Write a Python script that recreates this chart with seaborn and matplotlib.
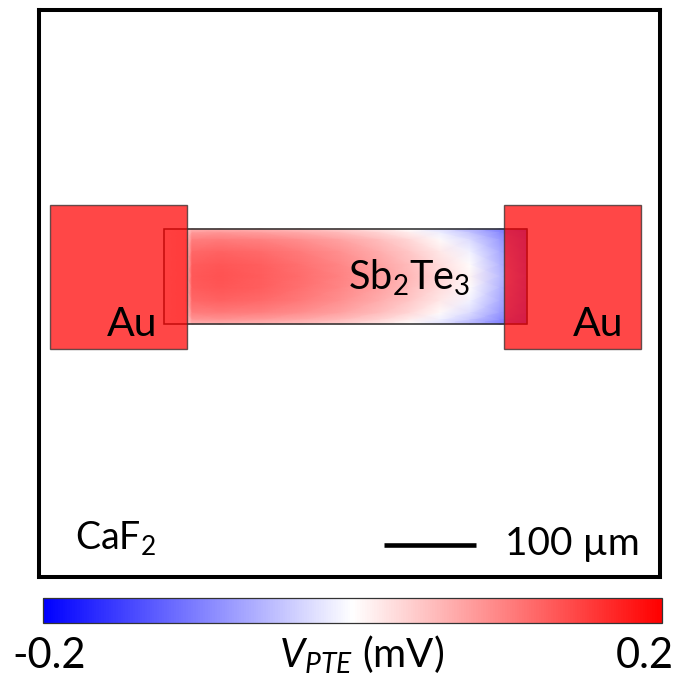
import numpy as np
import matplotlib
matplotlib.use("Agg")
import matplotlib.pyplot as plt
from matplotlib.patches import Rectangle
import seaborn as sns

# ---------------- data (V_PTE in mV) ----------------
# sample positions along the Sb2Te3 channel (picture pixels, left contact -> right contact)
field_x = [164, 185, 192, 220, 260, 300, 340, 380, 410, 440, 470, 500, 527]
# sample positions across the channel, from its edge to its centre line
field_y = [229, 233, 240, 252, 265, 276.5]
field_edge = [0.020, 0.030, 0.060, 0.062, 0.058, 0.050, 0.038, 0.020,  0.000, -0.025, -0.060, -0.100, -0.125]
field_r1   = [0.020, 0.030, 0.080, 0.083, 0.078, 0.068, 0.054, 0.034,  0.014, -0.012, -0.045, -0.090, -0.120]
field_r2   = [0.020, 0.030, 0.100, 0.104, 0.099, 0.088, 0.072, 0.050,  0.030,  0.004, -0.028, -0.078, -0.115]
field_r3   = [0.020, 0.030, 0.118, 0.122, 0.116, 0.104, 0.087, 0.064,  0.043,  0.018, -0.010, -0.066, -0.112]
field_r4   = [0.020, 0.030, 0.128, 0.132, 0.125, 0.112, 0.095, 0.072,  0.051,  0.028,  0.003, -0.058, -0.108]
field_mid  = [0.020, 0.030, 0.130, 0.135, 0.128, 0.115, 0.098, 0.075,  0.055,  0.032,  0.008, -0.052, -0.105]
vmin, vmax = -0.2, 0.2
cbar_tick_values = [-0.177, -0.108, -0.040, 0.028, 0.096, 0.165]
cbar_end_labels = ["-0.2", "0.2"]
material_labels = {"pad": "Au", "channel": r"Sb$_2$Te$_3$", "substrate": r"CaF$_2$"}
scale_label = "100 µm"
cbar_label = r"$\mathit{V}_{\mathit{PTE}}$ (mV)"

# ---------------- style ----------------
sns.set_theme(style="white")
plt.rcParams["font.family"] = ["Lato", "DejaVu Sans"]
plt.rcParams["text.color"] = "black"
plt.rcParams["mathtext.fontset"] = "custom"
plt.rcParams["mathtext.rm"] = "Lato"
plt.rcParams["mathtext.it"] = "Lato:italic"
plt.rcParams["mathtext.default"] = "regular"
cmap = sns.color_palette("bwr", as_cmap=True)

W, H = 678, 686
fig = plt.figure(figsize=(W / 100, H / 100), dpi=100)

# main panel, data coordinates = picture pixels
fl, fr, ft, fb = 38.8, 660.0, 9.5, 576.5
ax = fig.add_axes([fl / W, 1 - fb / H, (fr - fl) / W, (fb - ft) / H])
ax.set_xlim(fl, fr)
ax.set_ylim(fb, ft)
ax.set_xticks([])
ax.set_yticks([])
for s in ax.spines.values():
    s.set_linewidth(2.9)
    s.set_color("black")

# channel field (mirror the half-profile about the centre line)
cx0, cx1, cy0, cy1 = 164, 527, 229, 324
half = [field_edge, field_r1, field_r2, field_r3, field_r4, field_mid]
rows = half + half[-2::-1]
ys = list(field_y) + [2 * field_y[-1] - y for y in field_y[-2::-1]]
X, Y = np.meshgrid(np.array(field_x, float), np.array(ys, float))
im = ax.pcolormesh(X, Y, np.array(rows), cmap=cmap, vmin=vmin, vmax=vmax,
                   shading="gouraud", zorder=1, rasterized=True)
ax.add_patch(Rectangle((cx0, cy0), cx1 - cx0, cy1 - cy0, fill=False,
                       edgecolor="#2a2a2a", linewidth=1.1, zorder=2))

# gold pads (semi-transparent)
for px0, px1 in [(50, 187), (504, 641)]:
    ax.add_patch(Rectangle((px0, 205), px1 - px0, 349 - 205, facecolor=(1, 0, 0, 0.72),
                           edgecolor=(0.25, 0.2, 0.2, 0.8), linewidth=1.0, zorder=3))

ax.text(132, 336, material_labels["pad"], fontsize=29.5, ha="center", va="baseline", zorder=5)
ax.text(598, 336, material_labels["pad"], fontsize=29.5, ha="center", va="baseline", zorder=5)
ax.text(409, 290, material_labels["channel"], fontsize=28.5, ha="center", va="baseline", zorder=5)
ax.text(75, 549, material_labels["substrate"], fontsize=27, ha="left", va="baseline", zorder=5)

# scale bar
ax.plot([384, 476], [545, 545], color="black", linewidth=3.3, solid_capstyle="butt", zorder=5)
ax.text(505, 555, scale_label, fontsize=28, ha="left", va="baseline", zorder=5)

# colorbar
bl, br, bt, bb = 43.3, 662.0, 598.3, 622.7
cax = fig.add_axes([bl / W, 1 - bb / H, (br - bl) / W, (bb - bt) / H])
cb = fig.colorbar(im, cax=cax, orientation="horizontal")
cb.outline.set_linewidth(0.9)
cb.outline.set_edgecolor("#333333")
cax.set_xticks(cbar_tick_values)
cax.set_xticklabels([])
cax.tick_params(axis="x", direction="in", top=True, bottom=True, length=4.5,
                width=1.0, color="#222222")

fig.text(49 / W, 1 - 668 / H, cbar_end_labels[0], fontsize=30, ha="center", va="baseline")
fig.text(645 / W, 1 - 668 / H, cbar_end_labels[1], fontsize=30, ha="center", va="baseline")
fig.text(362 / W, 1 - 668 / H, cbar_label, fontsize=29, ha="center", va="baseline")

fig.savefig("out.png", dpi=100)
